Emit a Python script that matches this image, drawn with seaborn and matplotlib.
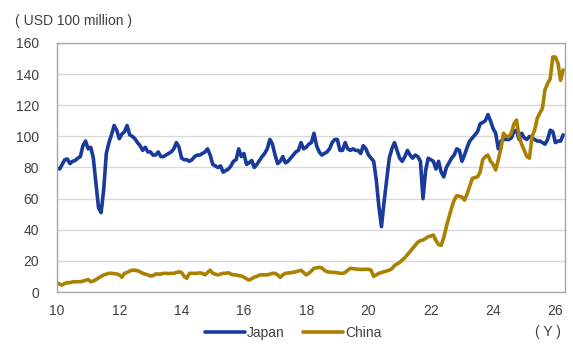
import numpy as np
import pandas as pd
import matplotlib
matplotlib.use("Agg")
import matplotlib.pyplot as plt
import seaborn as sns
from matplotlib.lines import Line2D

# Monthly values, Jan 2010 .. Apr 2026 (USD 100 million)
japan = [
    79.5, 79, 82, 85, 85.5, 82.5, 84, 84.5, 86, 87, 94, 97,
    92, 93, 86, 70, 54, 51, 66, 89, 96, 101, 107, 104,
    98.5, 101.5, 103, 107, 101, 100, 98.5, 96, 94, 91, 93, 90,
    90, 88, 88, 90, 87, 87, 88, 89, 90, 92, 96, 93,
    86, 85, 85, 84, 85, 87, 88, 88, 89, 90, 92, 88,
    82, 81, 80, 81, 77, 78, 79, 81, 84, 85, 92, 87,
    89, 82, 83, 84.5, 80, 82, 84.5, 87, 89, 92, 98, 95,
    88, 82.5, 84, 87, 83, 84, 86, 88, 90, 91, 96, 92,
    93, 95, 96, 102, 94, 90, 88, 89, 90, 92, 96, 98,
    98, 91, 91, 96, 92, 91, 92, 91, 91, 89, 94, 92,
    88, 86, 84, 72, 55, 42, 58, 72, 86, 92, 96, 91,
    86, 84, 87, 91, 88, 86, 88, 87, 84, 60, 78, 86,
    85, 84, 79, 84, 77, 74, 80, 83, 86, 88, 92, 91,
    84, 88, 93, 97, 99, 101, 103, 108, 109, 110, 114, 110,
    105, 102, 92, 97, 98, 98, 98, 99, 103, 104, 98, 102,
    99, 98, 100, 99, 98, 97, 97, 96, 95, 98, 104, 103,
    96, 97, 97, 101,
]
china = [
    6, 5, 4.5, 5.5, 6, 6, 6.5, 6.6, 6.6, 6.6, 7, 7.5,
    8, 6.6, 7, 8, 9, 10, 11, 11.5, 12, 12, 11.8, 11.6,
    11, 9.5, 12, 12.5, 13.5, 14, 14, 13.7, 13, 12, 11.5, 11,
    10.3, 10.5, 11.6, 11.5, 11.5, 12, 12, 11.8, 12, 12, 12.5, 13,
    12.5, 10, 8.8, 12, 12, 12, 12, 12.3, 12, 11, 12.5, 14,
    12, 11.5, 11, 11.5, 12, 12, 12.4, 11.5, 11, 11, 10.5, 10.3,
    9.5, 8.5, 7.7, 8.5, 9.6, 10, 10.9, 11, 11, 11, 11.5, 12,
    12, 11, 9.4, 11, 12, 12.2, 12.4, 12.6, 13, 13.5, 14, 12.5,
    11, 12, 13.5, 15.2, 15.5, 15.8, 15.5, 14, 13, 12.8, 12.6, 12.6,
    12.4, 12, 12, 12.5, 14, 15.2, 15, 14.8, 14.6, 14.5, 14.5, 14.6,
    14.6, 14, 10, 11, 12, 12.5, 13, 13.5, 14, 15, 17, 18,
    19, 20.6, 22, 24, 26, 28, 30, 32, 33, 33.4, 34.5, 35.5,
    36, 36.6, 33, 30.5, 30, 35, 42, 48, 54, 59, 62, 61.5,
    61, 59, 63, 68, 73, 73.5, 74, 77, 85, 87, 88, 84,
    82, 78.4, 85, 92, 102, 100, 99.8, 102, 108, 110.5, 100, 95,
    91, 87, 86, 100, 104, 111.6, 115, 118, 130, 134, 137, 151,
    151, 147, 136, 142.7,
]
series_names = ["Japan", "China"]
start_year = 10
x_ticks = [10, 12, 14, 16, 18, 20, 22, 24, 26]
y_ticks = [0, 20, 40, 60, 80, 100, 120, 140, 160]

x = start_year + np.arange(len(japan)) / 12.0
df = pd.DataFrame({
    "x": np.concatenate([x, x]),
    "value": japan + china,
    "series": [series_names[0]] * len(japan) + [series_names[1]] * len(china),
})

sns.set_theme(style="white")
plt.rcParams["font.family"] = ["Liberation Sans", "DejaVu Sans"]
text_color = "#404040"
colors = {"Japan": "#173a9b", "China": "#a98000"}
fs = 10

fig = plt.figure(figsize=(5.73, 3.45), dpi=100)
ax = fig.add_axes([57 / 573, 1 - 292 / 345, (565 - 57) / 573, (292 - 43) / 345])

sns.lineplot(data=df, x="x", y="value", hue="series", palette=colors,
             linewidth=2.6, ax=ax, legend=False)

ax.set_xlim(10, 10 + 508 / 31.15)
ax.set_ylim(0, 160)
ax.set_xticks(x_ticks)
ax.set_xticklabels([str(t) for t in x_ticks])
ax.set_yticks(y_ticks)
ax.set_yticklabels([str(t) for t in y_ticks])
ax.set_xlabel("")
ax.set_ylabel("")
ax.yaxis.grid(True, color="#d9d9d9", linewidth=1.0)
ax.xaxis.grid(False)
ax.set_axisbelow(True)
for s in ax.spines.values():
    s.set_visible(True)
    s.set_color("#a6a6a6")
    s.set_linewidth(1.0)
ax.tick_params(axis="both", length=0, labelsize=fs, colors=text_color)
ax.tick_params(axis="y", pad=13)
ax.tick_params(axis="x", pad=8.5)

fig.text(15 / 573, 1 - 21 / 345, "( USD 100 million )", fontsize=fs,
         color=text_color, ha="left", va="center")
fig.text(561 / 573, 1 - 332 / 345, "( Y )", fontsize=fs,
         color=text_color, ha="right", va="center")

handles = [Line2D([0], [0], color=colors[n], linewidth=2.6) for n in series_names]
leg = fig.legend(handles, series_names, loc="center", bbox_to_anchor=(293 / 573, 1 - 333 / 345),
                 ncol=2, frameon=False, fontsize=fs, handlelength=2.9, handletextpad=0.15,
                 columnspacing=1.3, borderaxespad=0, borderpad=0)
for t in leg.get_texts():
    t.set_color(text_color)

fig.savefig("out.png", dpi=100)
